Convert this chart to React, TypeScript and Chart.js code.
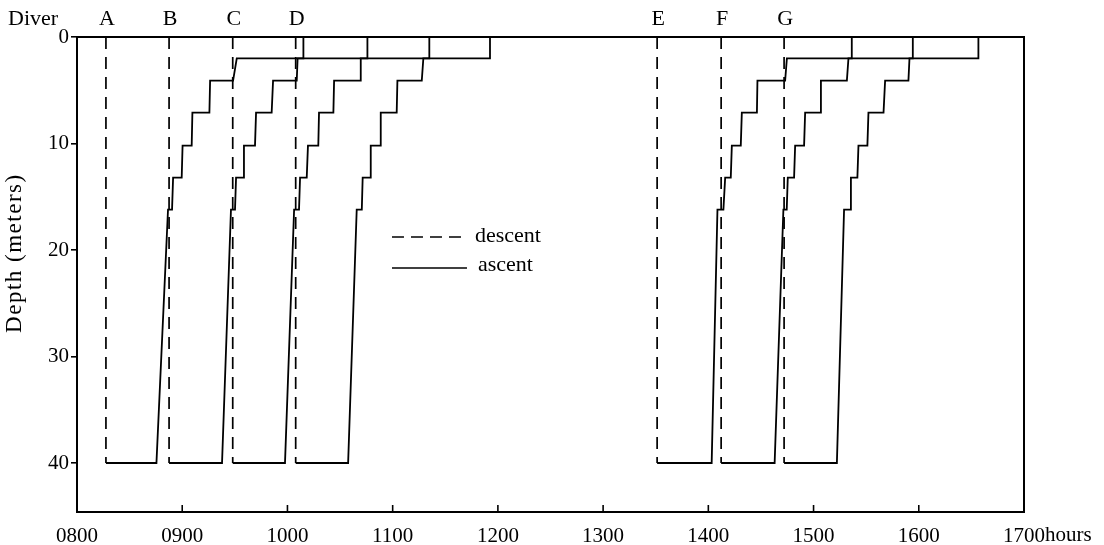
import React, { useEffect, useRef } from "react";
import { Chart, registerables } from "chart.js";

Chart.register(...registerables);

const FONT = "'Liberation Serif', 'DejaVu Serif', 'Times New Roman', serif";

// Diver letters and descent times (minutes after 0800)
const divers = ["A", "B", "C", "D", "E", "F", "G"];
const descentTimes = [16.5, 52.5, 88.8, 124.7, 330.8, 367.3, 403.2];
const bottomDepth = 40;

// Ascent profile depths (m): leave bottom, stops, surface
const ascentDepths = [40, 16.2, 16.2, 13.2, 13.2, 10.2, 10.2, 7.1, 7.1, 4.1, 4.1, 2, 2, 0];

// Ascent times (minutes after 0800) matching ascentDepths
const ascentA = [45.3, 51.9, 54.2, 54.8, 59.7, 60.2, 65.4, 65.8, 75.5, 75.9, 89.0, 91.1, 129.1, 129.1];
const ascentB = [82.7, 87.8, 90.1, 90.7, 94.8, 95.2, 101.5, 102.1, 111.0, 111.8, 125.3, 125.8, 165.6, 165.6];
const ascentC = [118.6, 123.8, 126.6, 127.2, 131.0, 131.7, 137.6, 138.0, 146.2, 146.6, 161.4, 161.8, 200.9, 200.9];
const ascentD = [154.6, 159.5, 162.4, 162.9, 167.1, 167.5, 172.8, 173.2, 182.3, 182.7, 196.6, 197.5, 235.5, 235.5];
const ascentE = [361.9, 365.2, 368.6, 369.6, 372.8, 373.4, 378.5, 379.1, 387.7, 388.0, 403.8, 404.8, 441.8, 441.8];
const ascentF = [397.8, 402.8, 404.7, 405.3, 408.9, 409.5, 414.6, 415.2, 423.8, 424.2, 439.0, 439.9, 476.6, 476.6];
const ascentG = [433.3, 437.4, 440.9, 441.3, 445.0, 445.6, 450.7, 451.3, 459.9, 460.8, 474.1, 474.7, 514.0, 514.0];
const ascents = [ascentA, ascentB, ascentC, ascentD, ascentE, ascentF, ascentG];

// Axis ticks
const xTickValues = [0, 60, 120, 180, 240, 300, 360, 420, 480, 540];
const xTickLabels = ["0800", "0900", "1000", "1100", "1200", "1300", "1400", "1500", "1600", "1700"];
const yTickValues = [0, 10, 20, 30, 40];
const xMin = 0;
const xMax = 540;
const yMin = 0;
const yMax = 44.6;
const yTitle = "Depth (meters)";

const decorPlugin = {
  id: "decor",
  afterDraw(chart: any) {
    const { ctx, chartArea } = chart;
    const xs = chart.scales.x;
    const { left, right, top, bottom } = chartArea;
    const w = right - left;
    const h = bottom - top;
    ctx.save();
    // frame
    ctx.strokeStyle = "#000";
    ctx.lineWidth = 2;
    ctx.strokeRect(left, top, w, h);
    // inward x ticks
    ctx.lineWidth = 1.6;
    xTickValues.forEach((v, i) => {
      if (i === 0 || i === xTickValues.length - 1) return;
      const px = xs.getPixelForValue(v);
      ctx.beginPath();
      ctx.moveTo(px, bottom);
      ctx.lineTo(px, bottom - 7);
      ctx.stroke();
    });
    // "hours" after last tick label
    ctx.fillStyle = "#000";
    ctx.font = `21px ${FONT}`;
    ctx.textBaseline = "middle";
    ctx.textAlign = "left";
    const lastPx = xs.getPixelForValue(xMax);
    const lastW = ctx.measureText(xTickLabels[xTickLabels.length - 1]).width;
    ctx.fillText("hours", lastPx + lastW / 2, bottom + 23);
    // Diver labels
    ctx.font = `22px ${FONT}`;
    ctx.textAlign = "left";
    ctx.fillText("Diver", 8, top - 18);
    ctx.textAlign = "center";
    divers.forEach((d, i) => {
      ctx.fillText(d, xs.getPixelForValue(descentTimes[i]) + 1, top - 18);
    });
    // y-axis title
    ctx.save();
    ctx.translate(15, top + 0.455 * h);
    ctx.rotate(-Math.PI / 2);
    ctx.font = `23px ${FONT}`;
    try {
      (ctx as any).letterSpacing = "1.5px";
    } catch (e) {}
    ctx.textAlign = "center";
    ctx.textBaseline = "middle";
    ctx.fillText(yTitle, 0, 0);
    ctx.restore();
    // legend
    const lx0 = left + 0.3326 * w;
    const lx1 = left + 0.4118 * w;
    const ly1 = top + 0.4211 * h;
    const ly2 = top + 0.4863 * h;
    ctx.lineWidth = 1.7;
    ctx.setLineDash([12, 7]);
    ctx.beginPath();
    ctx.moveTo(lx0, ly1);
    ctx.lineTo(lx1, ly1);
    ctx.stroke();
    ctx.setLineDash([]);
    ctx.beginPath();
    ctx.moveTo(lx0, ly2);
    ctx.lineTo(lx1, ly2);
    ctx.stroke();
    ctx.textAlign = "left";
    ctx.font = `22px ${FONT}`;
    ctx.fillText("descent", lx1 + 8, ly1 - 1);
    ctx.fillText("ascent", lx1 + 11, ly2 - 3);
    ctx.restore();
  },
};

export default function App() {
  const ref = useRef<HTMLCanvasElement | null>(null);

  useEffect(() => {
    if (!ref.current) return;
    const datasets: any[] = [];
    divers.forEach((d, i) => {
      datasets.push({
        label: `${d} descent`,
        data: [
          { x: descentTimes[i], y: 0 },
          { x: descentTimes[i], y: bottomDepth },
        ],
        borderColor: "#000",
        borderWidth: 1.7,
        borderDash: [12, 8],
        pointRadius: 0,
        tension: 0,
        fill: false,
      });
      const pts = [{ x: descentTimes[i], y: bottomDepth }];
      ascents[i].forEach((t, j) => pts.push({ x: t, y: ascentDepths[j] }));
      datasets.push({
        label: `${d} ascent`,
        data: pts,
        borderColor: "#000",
        borderWidth: 1.8,
        pointRadius: 0,
        tension: 0,
        fill: false,
      });
    });

    const chart = new Chart(ref.current, {
      type: "line",
      data: { datasets },
      options: {
        animation: false,
        responsive: true,
        maintainAspectRatio: false,
        layout: { padding: { top: 37, right: 80, left: 0, bottom: 0 } },
        plugins: {
          legend: { display: false },
          tooltip: { enabled: false },
        },
        scales: {
          x: {
            type: "linear",
            min: xMin,
            max: xMax,
            afterBuildTicks: (s: any) => {
              s.ticks = xTickValues.map((v) => ({ value: v }));
            },
            afterFit: (s: any) => {
              s.height = 33;
            },
            grid: { display: false, drawTicks: false },
            border: { display: false },
            ticks: {
              padding: 12,
              color: "#000",
              font: { family: FONT, size: 21 },
              maxRotation: 0,
              autoSkip: false,
              callback: (v: any) => {
                const idx = xTickValues.indexOf(Number(v));
                return idx >= 0 ? xTickLabels[idx] : "";
              },
            },
          },
          y: {
            type: "linear",
            reverse: true,
            min: yMin,
            max: yMax,
            afterBuildTicks: (s: any) => {
              s.ticks = yTickValues.map((v) => ({ value: v }));
            },
            afterFit: (s: any) => {
              s.width = 77;
            },
            grid: {
              drawOnChartArea: false,
              drawTicks: true,
              tickLength: 6,
              color: "#000",
              lineWidth: 1.6,
            },
            border: { display: false },
            title: { display: false },
            ticks: {
              padding: 2,
              color: "#000",
              font: { family: FONT, size: 21 },
              autoSkip: false,
            },
          },
        },
      },
      plugins: [decorPlugin],
    });
    return () => chart.destroy();
  }, []);

  return (
    <div
      style={{
        position: "fixed",
        left: 0,
        top: 0,
        width: 1104,
        height: 545,
        background: "#fff",
      }}
    >
      <canvas ref={ref} />
    </div>
  );
}
